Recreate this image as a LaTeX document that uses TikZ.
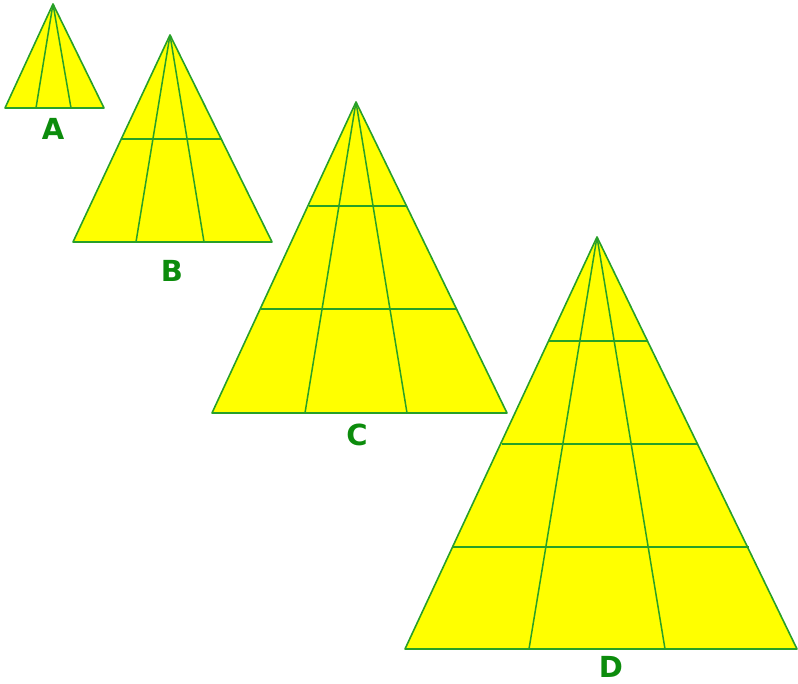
\documentclass[tikz,border=0pt]{standalone}
\usepackage{fontspec}
\setmainfont{DejaVu Sans}
\definecolor{triyellow}{RGB}{255,255,0}
\definecolor{triline}{RGB}{40,160,40}
\definecolor{labgreen}{RGB}{12,140,12}
\tikzset{
  tri/.style={fill=triyellow, draw=triline, line width=1.6pt, line join=round},
  inner/.style={draw=triline, line width=1.5pt},
  lab/.style={text=labgreen, font=\bfseries\fontsize{29}{29}\selectfont, inner sep=0pt}
}
\begin{document}
\begin{tikzpicture}[x=1pt,y=-1pt]
\useasboundingbox (0,0) rectangle (798,684);
% A
\coordinate (Aa) at (53,4); \coordinate (Al) at (5,108); \coordinate (Ar) at (104,108);
\filldraw[tri] (Aa) -- (Al) -- (Ar) -- cycle;
\draw[inner] (Aa) -- (36,108) (Aa) -- (71,108);
\node[lab] (labA) at (53,129) {A};
% B
\coordinate (Ba) at (170,35); \coordinate (Bl) at (73,242); \coordinate (Br) at (272,242);
\filldraw[tri] (Ba) -- (Bl) -- (Br) -- cycle;
\draw[inner] (Ba) -- (136,242) (Ba) -- (204,242);
\draw[inner] (121,139) -- (221,139);
\node[lab] (labB) at (172,271) {B};
% C
\coordinate (Ca) at (356,102); \coordinate (Cl) at (212,413); \coordinate (Cr) at (507,413);
\filldraw[tri] (Ca) -- (Cl) -- (Cr) -- cycle;
\draw[inner] (Ca) -- (305,413) (Ca) -- (407,413);
\draw[inner] (309,206) -- (406,206);
\draw[inner] (261,309) -- (457,309);
\node[lab] (labC) at (357,435) {C};
% D
\coordinate (Da) at (597,237); \coordinate (Dl) at (405,649); \coordinate (Dr) at (797,649);
\filldraw[tri] (Da) -- (Dl) -- (Dr) -- cycle;
\draw[inner] (Da) -- (529,649) (Da) -- (665,649);
\draw[inner] (549,341) -- (648,341);
\draw[inner] (502,444) -- (698,444);
\draw[inner] (453,547) -- (749,547);
\node[lab] (labD) at (611,667) {D};
\end{tikzpicture}
\end{document}
